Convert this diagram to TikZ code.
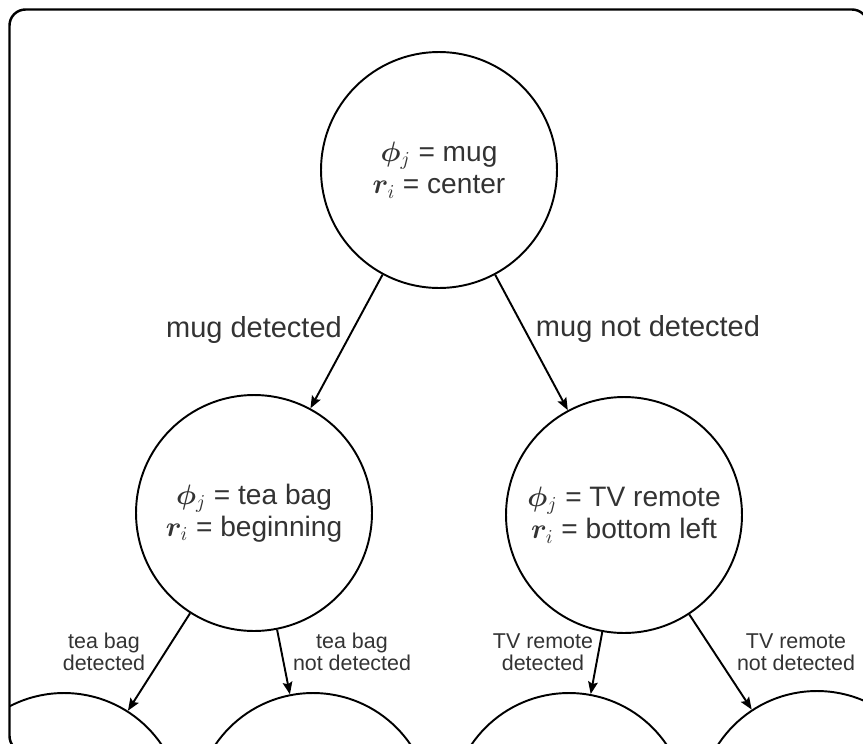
\documentclass[tikz,border=0pt]{standalone}
\usepackage{fix-cm}
\usepackage{amsmath}
\usepackage{bm}
\usepackage{fontspec}
\setmainfont{Liberation Sans}
\usepackage{tikz}
\usetikzlibrary{arrows.meta}
\tikzset{
  state/.style={draw, circle, line width=1.1pt, minimum size=4.72cm, inner sep=0pt,
    align=center, text=black!80, font=\fontsize{16}{18.5}\selectfont},
  branch/.style={line width=1.1pt, -{Stealth[length=7pt,width=5.5pt,inset=1.2pt]}},
  biglabel/.style={text=black!80, font=\fontsize{16.5}{19}\selectfont},
  smalllabel/.style={align=center, text=black!80, font=\fontsize{12.2}{12.8}\selectfont},
}

\begin{document}
\begin{tikzpicture}[x=0.02cm, y=-0.02cm]
  \useasboundingbox (0,0) rectangle (863,744);
  \begin{scope}
    \clip[rounded corners=0.32cm] (9.5,9.5) rectangle (868,752);
    \node[state] (mug) at (439,170) {$\bm{\phi}_j$ = mug\\$\bm{r}_i$ = center};
    \node[state] (teabag) at (254,513) {$\bm{\phi}_j$ = tea bag\\$\bm{r}_i$ = beginning};
    \node[state] (remote) at (624,515) {$\bm{\phi}_j$ = TV remote\\$\bm{r}_i$ = bottom left};
    \node[state] (teayes) at (64,811) {};
    \node[state] (teano) at (313,811) {};
    \node[state] (remoteyes) at (569,811) {};
    \node[state] (remoteno) at (817,809) {};
    \draw[branch] (mug) -- (teabag);
    \draw[branch] (mug) -- (remote);
    \draw[branch] (teabag) -- (teayes);
    \draw[branch] (teabag) -- (teano);
    \draw[branch] (remote) -- (remoteyes);
    \draw[branch] (remote) -- (remoteno);
    \node[biglabel] (mugyes) at (254,330) {mug detected};
    \node[biglabel] (mugno) at (648,329) {mug not detected};
    \node[smalllabel] (lteayes) at (104,652) {tea bag\\detected};
    \node[smalllabel] (lteano) at (352,652) {tea bag\\not detected};
    \node[smalllabel] (lremoteyes) at (543,652) {TV remote\\detected};
    \node[smalllabel] (lremoteno) at (796,652) {TV remote\\not detected};
  \end{scope}
  \draw[line width=1.4pt, rounded corners=0.32cm] (9.5,9.5) rectangle (868,752);
\end{tikzpicture}
\end{document}
